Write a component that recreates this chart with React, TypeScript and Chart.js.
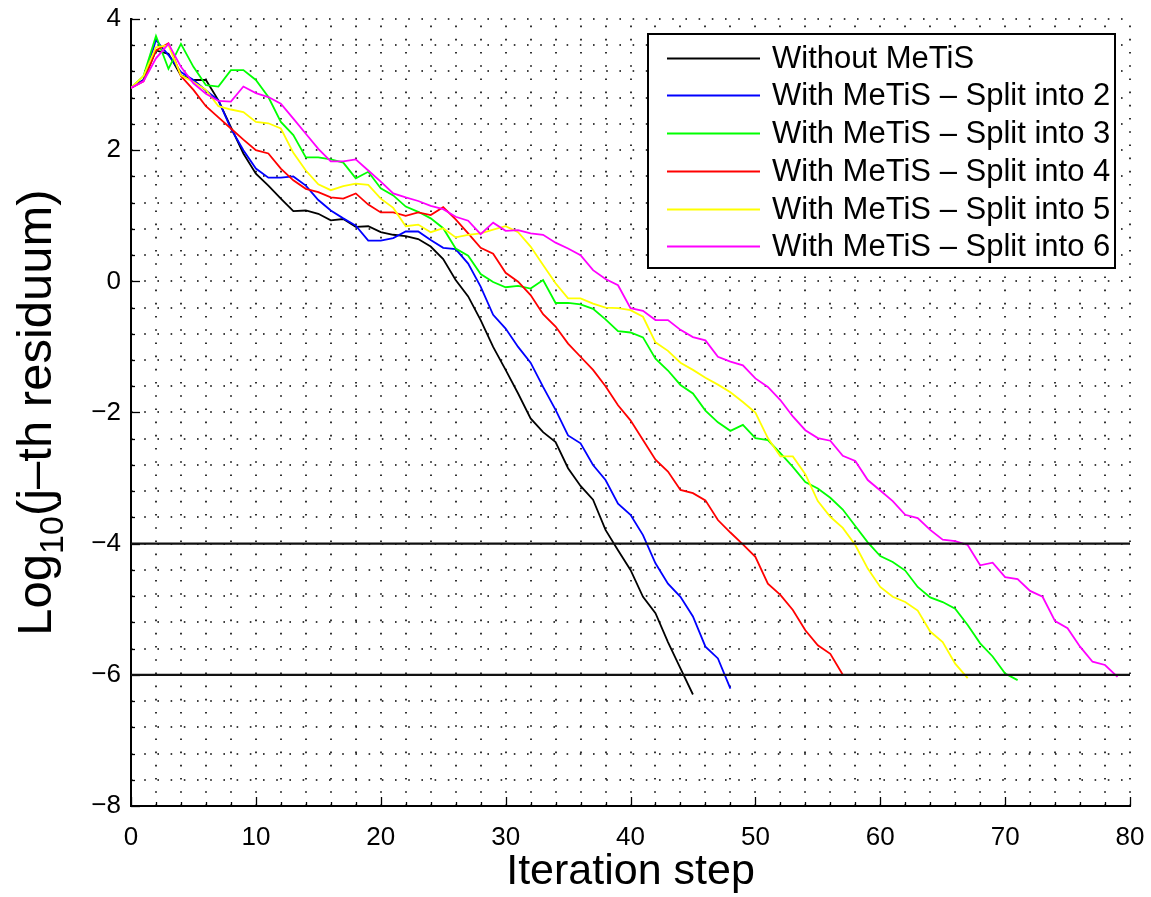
import React, { useEffect, useRef } from "react";
import { Chart, registerables } from "chart.js";

Chart.register(...registerables);

// ---------- data ----------
const seriesLabels = [
  "Without MeTiS",
  "With MeTiS – Split into 2",
  "With MeTiS – Split into 3",
  "With MeTiS – Split into 4",
  "With MeTiS – Split into 5",
  "With MeTiS – Split into 6",
];
const seriesColors = ["#000000", "#0000ff", "#00ff00", "#ff0000", "#ffff00", "#ff00ff"];

// log10 of j-th residuum, one value per iteration step starting at step 0
const withoutMetis = [
  2.95, 3.07, 3.52, 3.47, 3.14, 3.07, 3.07, 2.76, 2.35, 1.95,
  1.64, 1.46, 1.26, 1.07, 1.08, 1.03, 0.93, 0.95, 0.83, 0.84,
  0.75, 0.71, 0.69, 0.645, 0.53, 0.34, 0.02, -0.23, -0.59, -1.0,
  -1.35, -1.71, -2.09, -2.3, -2.45, -2.85, -3.12, -3.33, -3.79, -4.1,
  -4.4, -4.81, -5.06, -5.5, -5.9, -6.3,
];
const split2 = [
  2.95, 3.07, 3.68, 3.45, 3.19, 3.07, 2.91, 2.76, 2.33, 2.0,
  1.72, 1.58, 1.58, 1.6, 1.46, 1.24, 1.08, 0.96, 0.85, 0.62,
  0.62, 0.66, 0.76, 0.76, 0.63, 0.51, 0.49, 0.27, -0.08, -0.51,
  -0.72, -1.0, -1.24, -1.61, -1.96, -2.35, -2.47, -2.8, -3.03, -3.39,
  -3.56, -3.87, -4.3, -4.61, -4.81, -5.11, -5.57, -5.75, -6.21,
];
const split3 = [
  2.95, 3.13, 3.74, 3.24, 3.62, 3.27, 2.99, 2.97, 3.22, 3.22,
  3.07, 2.81, 2.43, 2.23, 1.89, 1.89, 1.86, 1.81, 1.57, 1.67,
  1.42, 1.31, 1.14, 1.06, 0.96, 0.81, 0.5, 0.39, 0.11, -0.01,
  -0.09, -0.07, -0.11, 0.02, -0.33, -0.33, -0.35, -0.42, -0.58, -0.76,
  -0.78, -0.855, -1.18, -1.36, -1.58, -1.71, -1.97, -2.15, -2.28, -2.19,
  -2.39, -2.42, -2.62, -2.83, -3.06, -3.16, -3.3, -3.48, -3.73, -3.98,
  -4.19, -4.28, -4.41, -4.66, -4.82, -4.89, -4.99, -5.24, -5.52, -5.72,
  -5.98, -6.08,
];
const split4 = [
  2.95, 3.05, 3.52, 3.63, 3.13, 2.92, 2.67, 2.5, 2.33, 2.16,
  2.0, 1.95, 1.72, 1.54, 1.41, 1.36, 1.28, 1.26, 1.34, 1.17,
  1.05, 1.05, 1.0, 1.05, 1.01, 1.13, 0.945, 0.73, 0.51, 0.42,
  0.13, -0.005, -0.21, -0.5, -0.69, -0.95, -1.15, -1.35, -1.6, -1.89,
  -2.12, -2.42, -2.72, -2.9, -3.18, -3.23, -3.34, -3.64, -3.83, -4.01,
  -4.2, -4.61, -4.78, -5.01, -5.32, -5.55, -5.68, -6.0,
];
const split5 = [
  2.95, 3.13, 3.57, 3.6, 3.14, 3.04, 2.92, 2.67, 2.62, 2.58,
  2.43, 2.41, 2.33, 1.96, 1.69, 1.48, 1.39, 1.45, 1.49, 1.47,
  1.26, 1.12, 0.84, 0.865, 0.75, 0.81, 0.67, 0.71, 0.73, 0.79,
  0.84, 0.75, 0.53, 0.25, -0.03, -0.26, -0.26, -0.34, -0.4, -0.41,
  -0.44, -0.54, -0.93, -1.06, -1.24, -1.35, -1.47, -1.575, -1.69, -1.84,
  -2.0, -2.39, -2.67, -2.67, -2.94, -3.35, -3.59, -3.76, -4.02, -4.38,
  -4.66, -4.81, -4.89, -5.02, -5.34, -5.5, -5.83, -6.05,
];
const split6 = [
  2.95, 3.05, 3.4, 3.62, 3.27, 3.02, 2.86, 2.75, 2.74, 2.97,
  2.87, 2.81, 2.71, 2.48, 2.25, 2.02, 1.83, 1.83, 1.86, 1.69,
  1.52, 1.34, 1.28, 1.225, 1.15, 1.1, 0.985, 0.925, 0.72, 0.895,
  0.77, 0.78, 0.73, 0.71, 0.59, 0.5, 0.4, 0.17, 0.035, -0.06,
  -0.41, -0.45, -0.59, -0.59, -0.74, -0.85, -0.9, -1.15, -1.225, -1.28,
  -1.48, -1.61, -1.81, -2.06, -2.27, -2.39, -2.43, -2.66, -2.74, -3.03,
  -3.19, -3.35, -3.56, -3.61, -3.79, -3.94, -3.96, -4.02, -4.33, -4.29,
  -4.51, -4.54, -4.72, -4.81, -5.18, -5.29, -5.57, -5.8, -5.85, -6.03,
];
const allSeries = [withoutMetis, split2, split3, split4, split5, split6];

const thresholds = [-4, -6];
const xRange = [0, 80];
const yRange = [-8, 4];
const xMajorStep = 10;
const yMajorStep = 2;
const xMinorStep = 2;
const yMinorStep = 0.4;

const xTitle = "Iteration step";
const yTitleMain = "Log";
const yTitleSub = "10";
const yTitleRest = "(j–th residuum)";

// ---------- styling ----------
const FONT = "'Liberation Sans', Arial, Helvetica, sans-serif";
const W = 1151;
const H = 897;

const bgPlugin = {
  id: "bg",
  beforeDraw(chart: any) {
    const ctx = chart.ctx;
    ctx.save();
    ctx.fillStyle = "#ffffff";
    ctx.fillRect(0, 0, chart.width, chart.height);
    ctx.restore();
  },
};

const gridPlugin = {
  id: "dotGrid",
  beforeDatasetsDraw(chart: any) {
    const ctx = chart.ctx;
    const xs = chart.scales.x;
    const ys = chart.scales.y;
    const a = chart.chartArea;
    ctx.save();
    ctx.strokeStyle = "#000000";
    ctx.lineWidth = 1.6;
    ctx.setLineDash([1.6, 11.6]);
    for (let v = xRange[0] + xMinorStep; v <= xRange[1] + 1e-9; v += xMinorStep) {
      const px = Math.round(xs.getPixelForValue(v));
      ctx.beginPath();
      ctx.moveTo(px, a.bottom);
      ctx.lineTo(px, a.top);
      ctx.stroke();
    }
    for (let v = yRange[0] + yMinorStep; v <= yRange[1] + 1e-9; v += yMinorStep) {
      const py = Math.round(ys.getPixelForValue(v));
      ctx.beginPath();
      ctx.moveTo(a.left, py);
      ctx.lineTo(a.right, py);
      ctx.stroke();
    }
    ctx.setLineDash([]);
    ctx.lineWidth = 1.3;
    // inward ticks
    for (let v = xRange[0]; v <= xRange[1] + 1e-9; v += xMinorStep) {
      const major = Math.abs(v / xMajorStep - Math.round(v / xMajorStep)) < 1e-6;
      const px = Math.round(xs.getPixelForValue(v)) + 0.5;
      ctx.beginPath();
      ctx.moveTo(px, a.bottom);
      ctx.lineTo(px, a.bottom - (major ? 9 : 4));
      ctx.stroke();
    }
    for (let v = yRange[0]; v <= yRange[1] + 1e-9; v += yMinorStep) {
      const major = Math.abs(v / yMajorStep - Math.round(v / yMajorStep)) < 1e-6;
      const py = Math.round(ys.getPixelForValue(v)) + 0.5;
      ctx.beginPath();
      ctx.moveTo(a.left, py);
      ctx.lineTo(a.left + (major ? 9 : 4), py);
      ctx.stroke();
    }
    ctx.restore();
  },
};

const overlayPlugin = {
  id: "overlay",
  afterDraw(chart: any) {
    const ctx = chart.ctx;
    const a = chart.chartArea;
    ctx.save();
    // legend box
    const boxW = 467;
    const boxH = 234;
    const boxL = a.right - 482;
    const boxT = a.top + 15;
    ctx.fillStyle = "#ffffff";
    ctx.fillRect(boxL, boxT, boxW, boxH);
    ctx.strokeStyle = "#000000";
    ctx.lineWidth = 2;
    ctx.strokeRect(boxL, boxT, boxW, boxH);
    ctx.font = `31px ${FONT}`;
    ctx.textBaseline = "middle";
    ctx.textAlign = "left";
    seriesLabels.forEach((lab, i) => {
      const cy = Math.round(boxT + 23.7 + 37.7 * i) + 0.5;
      ctx.strokeStyle = seriesColors[i];
      ctx.lineWidth = 1.8;
      ctx.beginPath();
      ctx.moveTo(boxL + 19, cy);
      ctx.lineTo(boxL + 112, cy);
      ctx.stroke();
      ctx.fillStyle = "#000000";
      ctx.fillText(lab, boxL + 124, cy + 1);
    });

    // x title
    ctx.fillStyle = "#000000";
    ctx.textAlign = "center";
    ctx.textBaseline = "alphabetic";
    ctx.font = `43px ${FONT}`;
    ctx.fillText(xTitle, (a.left + a.right) / 2, 884);

    // y title with subscript
    const mainFont = `49px ${FONT}`;
    const subFont = `34px ${FONT}`;
    ctx.font = mainFont;
    const w1 = ctx.measureText(yTitleMain).width;
    const w3 = ctx.measureText(yTitleRest).width;
    ctx.font = subFont;
    const w2 = ctx.measureText(yTitleSub).width;
    const total = w1 + w2 + w3;
    ctx.translate(51, (a.top + a.bottom) / 2);
    ctx.rotate(-Math.PI / 2);
    ctx.textAlign = "left";
    let x0 = -total / 2;
    ctx.font = mainFont;
    ctx.fillText(yTitleMain, x0, 0);
    x0 += w1;
    ctx.font = subFont;
    ctx.fillText(yTitleSub, x0, 12);
    x0 += w2;
    ctx.font = mainFont;
    ctx.fillText(yTitleRest, x0, 0);
    ctx.restore();
  },
};

export default function App() {
  const ref = useRef<HTMLCanvasElement | null>(null);

  useEffect(() => {
    if (!ref.current) return;
    const datasets: any[] = allSeries.map((vals, i) => ({
      label: seriesLabels[i],
      data: vals.map((v, step) => ({ x: step, y: v })),
      borderColor: seriesColors[i],
      backgroundColor: seriesColors[i],
      borderWidth: 1.8,
      pointRadius: 0,
      tension: 0,
      fill: false,
      order: 10 - i,
    }));
    thresholds.forEach((t) => {
      datasets.push({
        label: `threshold ${t}`,
        data: [
          { x: xRange[0], y: t },
          { x: xRange[1], y: t },
        ],
        borderColor: "#111111",
        borderWidth: 2.2,
        pointRadius: 0,
        fill: false,
        order: 0,
      });
    });

    const chart = new Chart(ref.current, {
      type: "line",
      data: { datasets },
      options: {
        animation: false,
        responsive: false,
        devicePixelRatio: 1,
        layout: { padding: { top: 19, right: 21, left: 0, bottom: 0 } },
        plugins: {
          legend: { display: false },
          tooltip: { enabled: false },
          title: { display: false },
        },
        scales: {
          x: {
            type: "linear",
            min: xRange[0],
            max: xRange[1],
            afterFit: (s: any) => {
              s.height = H - 806;
              s.paddingLeft = 0;
              s.paddingRight = 0;
            },
            ticks: {
              stepSize: xMajorStep,
              autoSkip: false,
              maxRotation: 0,
              padding: 16,
              color: "#000000",
              font: { family: FONT, size: 26 },
            },
            grid: { display: false, drawTicks: false },
            border: { display: true, color: "#000000", width: 2 },
          },
          y: {
            type: "linear",
            min: yRange[0],
            max: yRange[1],
            afterFit: (s: any) => {
              s.width = 131;
              s.paddingTop = 0;
              s.paddingBottom = 0;
            },
            ticks: {
              stepSize: yMajorStep,
              autoSkip: false,
              padding: 10,
              color: "#000000",
              font: { family: FONT, size: 26 },
              callback: (v: any) => String(v).replace("-", "\u2212"),
            },
            grid: { display: false, drawTicks: false },
            border: { display: true, color: "#000000", width: 2 },
          },
        },
      },
      plugins: [bgPlugin, gridPlugin, overlayPlugin],
    });
    return () => chart.destroy();
  }, []);

  return (
    <div style={{ position: "absolute", left: 0, top: 0, width: W, height: H, background: "#fff" }}>
      <canvas ref={ref} width={W} height={H} style={{ display: "block" }} />
    </div>
  );
}
